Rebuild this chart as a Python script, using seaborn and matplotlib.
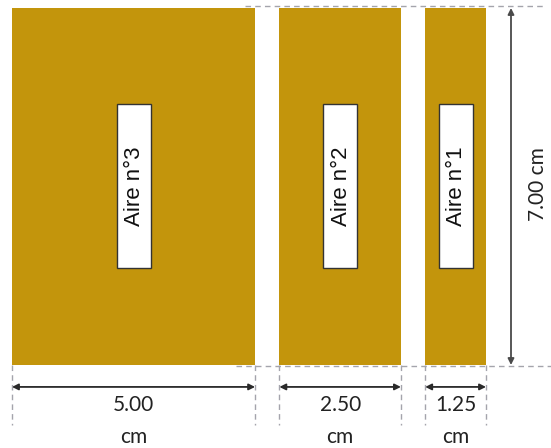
import numpy as np
import matplotlib
matplotlib.use("Agg")
import matplotlib.pyplot as plt
import seaborn as sns
from matplotlib.patches import Rectangle

# data
labels = ["Aire n°3", "Aire n°2", "Aire n°1"]
widths_cm = [5.00, 2.50, 1.25]
height_cm = 7.00
width_texts = ["5.00", "2.50", "1.25"]
height_text = "7.00 cm"
unit = "cm"

sns.set_theme(style="white")
plt.rcParams['font.family'] = ['Lato', 'DejaVu Sans']

gold = '#C3950C'
dash_col = '#A4A4AC'
gap = 0.5

fig = plt.figure(figsize=(5.51, 4.48), dpi=100)
ax = fig.add_axes([0, 0, 1, 1])

# pixel scales used only for framing the view
kx = 474 / (sum(widths_cm) + 2 * gap)
ky = 357 / height_cm
ax.set_xlim(-12 / kx, (551 - 12) / kx)
ax.set_ylim(-(448 - 365) / ky, height_cm + 8 / ky)

lefts = np.concatenate([[0], np.cumsum(np.array(widths_cm) + gap)[:-1]])
centers = lefts + np.array(widths_cm) / 2

ax.bar(lefts, [height_cm] * 3, width=widths_cm, align='edge', color=gold,
       edgecolor='none', zorder=2)

# dashed guide lines
ax.plot([4.8, (545 - 12) / kx], [height_cm + 0.03] * 2, ls='--', color=dash_col,
        lw=1, dashes=(4, 3), zorder=3)
ax.plot([4.6, (551 - 12) / kx], [-0.02] * 2, ls='--', color=dash_col,
        lw=1, dashes=(4, 3), zorder=1)
for l, w in zip(lefts, widths_cm):
    for xe in (l, l + w):
        ax.plot([xe, xe], [0, -1.18], ls='--', color=dash_col, lw=1,
                dashes=(4, 3), zorder=1)

# width arrows and labels
for l, w, c, t in zip(lefts, widths_cm, centers, width_texts):
    ax.annotate('', xy=(l, -0.43), xytext=(l + w, -0.43),
                arrowprops=dict(arrowstyle='<|-|>', color='#2A2A2A', lw=1.3,
                                shrinkA=0, shrinkB=0, mutation_scale=9))
    ax.text(c, -0.78, t, ha='center', va='center', fontsize=15, color='#222222')
    ax.text(c, -1.42, unit, ha='center', va='center', fontsize=15, color='#222222')

# height arrow
xa = (511 - 12) / kx
ax.annotate('', xy=(xa, 0), xytext=(xa, height_cm),
            arrowprops=dict(arrowstyle='<|-|>', color='#4A4A4A', lw=1.3,
                            shrinkA=0, shrinkB=0, mutation_scale=9))
ax.text((538 - 12) / kx, height_cm / 2 + 0.05, height_text, rotation=90,
        ha='center', va='center', fontsize=15, color='#222222')

# white label boxes
bw = 34 / kx
bh = 164 / ky
for c, lab in zip(centers, labels):
    ax.add_patch(Rectangle((c - bw / 2, height_cm / 2 - bh / 2 + 0.01), bw, bh,
                           facecolor='white', edgecolor='#333333', lw=1, zorder=4))
    ax.text(c + 0.02, height_cm / 2 + 0.01, lab, rotation=90, ha='center',
            va='center', fontsize=16, family=['Liberation Sans', 'DejaVu Sans'],
            color='#111111', zorder=5)

ax.axis('off')
fig.savefig('out.png', dpi=100, facecolor='white')
